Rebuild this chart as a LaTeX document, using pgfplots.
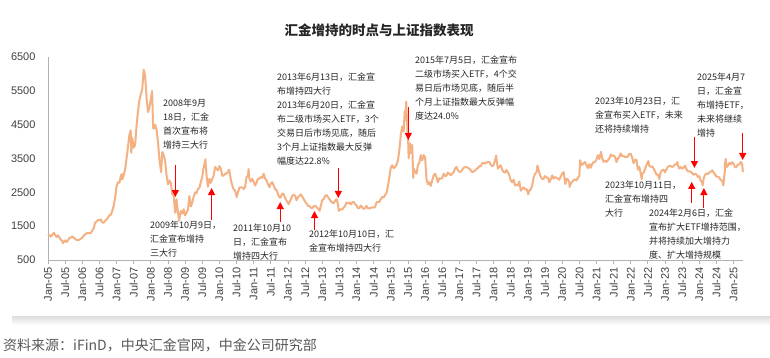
\documentclass[border=0pt]{standalone}
\usepackage{pgfplots}
\pgfplotsset{compat=1.18}
\usepackage{pgfplotstable}
\usepackage{fontspec}
\setmainfont{Liberation Sans}
\newfontfamily\cjk{Noto Sans CJK SC}
\usetikzlibrary{arrows.meta}
\definecolor{lineC}{HTML}{F4B183}
\definecolor{txt}{HTML}{262626}
\definecolor{tick}{HTML}{404040}

% t = months since 1 Jan 2005, v = SSE Composite index
\pgfplotstableread{
t v
0 1260
0.5 1230
1 1191
1.5 1240
2 1306
2.5 1240
3 1181
3.5 1230
4 1159
4.5 1100
5 1060
5.2 1000
5.6 1040
6 1080
6.5 1030
7 1083
7.5 1150
8 1162
8.5 1200
9 1155
9.5 1130
10 1092
10.5 1090
11 1099
11.5 1130
12 1161
12.5 1220
13 1258
13.5 1290
14 1299
14.5 1290
15 1298
15.5 1370
16 1440
16.5 1600
17 1641
17.5 1680
18 1672
18.5 1700
19 1612
19.5 1600
20 1658
20.5 1700
21 1752
21.5 1820
22 1837
22.5 1950
23 2099
23.5 2350
24 2675
24.5 2800
25 2786
25.5 2990
25.9 3040
26 2880
26.5 3000
27 3183
27.5 3500
28 3841
28.5 4200
28.95 4335
29.15 3670
29.5 4100
30 3820
30.5 3900
31 4471
31.5 4900
32 5218
32.5 5400
33 5552
33.5 6124
34 5954
34.5 5300
35 4871
35.5 5000
36 5262
36.45 5497
36.8 4400
37 4383
37.5 4500
38 4348
38.5 4000
39 3473
39.6 3094
40 3693
40.5 3600
41 3433
41.5 3000
42 2736
42.5 2850
43 2776
43.5 2450
44 2397
44.3 2100
44.57 1895
45 2293
45.5 1900
45.9 1664
46 1729
46.5 1950
47 1871
47.5 2000
48 1821
48.5 1900
49 1991
49.5 2390
50 2082
50.5 2200
51 2373
51.5 2500
52 2477
52.5 2600
53 2633
53.5 2800
54 2959
54.5 3250
55 3413
55.1 3478
55.5 3000
56 2667
56.5 2900
57 2779
57.5 2900
58 2996
58.5 3250
59 3195
59.5 3150
60 3277
60.5 3200
61 2989
61.5 3000
62 3051
62.5 3050
63 3110
63.45 3166
64 2871
64.5 2700
65 2592
65.5 2550
66 2398
66.1 2360
66.5 2500
67 2638
67.5 2650
68 2639
68.5 2600
69 2656
69.5 2950
70 2979
70.2 3186
70.5 2900
71 2820
71.5 2900
72 2808
72.5 2700
73 2791
73.5 2900
74 2905
74.5 2950
75 2928
75.5 3050
76 2911
76.5 2850
77 2743
77.5 2650
78 2762
78.5 2800
79 2701
79.5 2600
80 2568
80.5 2450
81 2359
81.35 2340
82 2468
82.5 2450
83 2333
83.5 2250
84 2199
84.2 2150
84.5 2200
85 2292
85.5 2400
86 2428
86.5 2400
87 2263
87.5 2350
88 2397
88.5 2440
89 2373
89.5 2300
90 2225
90.5 2170
91 2103
91.5 2100
92 2047
92.5 2030
93 2086
93.5 2100
94 2069
94.5 2020
95 1980
95.1 1950
95.5 2100
96 2269
96.5 2300
97 2385
97.5 2420
98 2366
98.5 2300
99 2237
99.5 2200
100 2178
100.5 2250
101 2301
101.5 2150
101.8 1950
102 1979
102.5 2000
103 1994
103.5 2050
104 2098
104.5 2200
105 2175
105.5 2200
106 2141
106.5 2200
107 2220
107.5 2150
108 2116
108.5 2030
109 2033
109.5 2110
110 2056
110.5 2010
111 2033
111.5 2100
112 2026
112.5 2030
113 2039
113.5 2060
114 2048
114.5 2070
115 2202
115.5 2220
116 2217
116.5 2300
117 2364
117.5 2350
118 2420
118.5 2480
119 2683
119.5 2950
120 3235
120.5 3300
121 3210
121.5 3250
122 3310
122.5 3450
123 3748
123.5 4200
124 4442
124.5 4300
124.9 4900
125 4612
125.4 5178
125.9 4200
126 4277
126.25 3507
126.7 3950
127 3664
127.5 3900
127.85 2927
128 3206
128.5 3100
129 3053
129.5 3300
130 3383
130.5 3600
131 3445
131.5 3600
132 3539
132.5 2900
133 2738
133.5 2800
134 2688
134.5 2850
135 3004
135.5 3050
136 2938
136.5 2800
137 2917
137.5 2900
138 2930
138.5 3050
139 2979
139.5 3000
140 3085
140.5 3050
141 3005
141.5 3050
142 3100
142.5 3200
143 3250
143.5 3150
144 3104
144.5 3110
145 3159
145.5 3230
146 3242
146.5 3250
147 3223
147.5 3200
148 3155
148.5 3090
149 3117
149.5 3140
150 3192
150.5 3220
151 3273
151.5 3270
152 3361
152.5 3370
153 3349
153.5 3380
154 3393
154.5 3400
155 3317
155.5 3270
156 3307
156.5 3450
156.9 3587
157 3481
157.5 3200
158 3259
158.5 3300
159 3169
159.5 3100
160 3082
160.5 3160
161 3095
161.5 3000
162 2847
162.5 2800
163 2876
163.5 2700
164 2725
164.5 2700
165 2821
165.5 2550
166 2603
166.5 2650
167 2588
167.5 2600
168 2494
168.1 2440
168.5 2550
169 2585
169.5 2700
170 2941
170.5 3050
171 3091
171.3 3288
171.5 3250
172 3078
172.5 2950
173 2899
173.5 2900
174 2979
174.5 2940
175 2933
175.5 2800
176 2886
176.5 3000
177 2905
177.5 2950
178 2929
178.5 2900
179 2872
179.5 2970
180 3050
180.5 3100
181.1 2746
181.5 2900
182 2880
182.5 2800
182.6 2660
183 2750
183.5 2820
184 2860
184.5 2880
185 2852
185.5 2930
186 2985
186.3 3450
186.5 3380
187 3310
187.5 3360
188 3396
188.5 3300
189 3218
189.5 3330
190 3225
190.5 3340
191 3392
191.5 3400
192 3473
192.5 3600
193 3483
193.6 3696
194 3509
194.5 3400
195 3442
195.5 3400
196 3447
196.5 3500
197 3615
197.5 3580
198 3591
198.5 3550
199 3397
199.5 3500
200 3544
200.5 3650
201 3568
201.5 3570
202 3547
202.5 3540
203 3564
203.5 3640
204 3640
204.5 3520
205 3361
205.5 3460
206 3462
206.5 3170
207 3253
207.5 3050
207.85 2886
208 3047
208.5 3080
209 3186
209.5 3300
210 3399
210.2 3424
210.5 3280
211 3253
211.5 3270
212 3202
212.5 3120
213 3024
213.5 3030
214 2893
214.5 3100
215 3151
215.5 3170
216 3089
216.5 3180
217 3255
217.5 3280
218 3280
218.5 3250
219 3273
219.5 3330
220 3323
220.3 3395
220.5 3300
221 3205
221.5 3250
222 3202
222.5 3230
223 3291
223.5 3180
224 3120
224.5 3120
225 3110
225.5 3060
226 3019
226.5 3050
227 3030
227.5 2950
228 2975
228.5 2840
229 2789
229.15 2702
229.5 2900
230 3015
230.5 3060
231 3041
231.5 3080
232 3105
232.5 3150
233 3087
233.5 3030
234 2967
234.5 2960
235 2939
235.5 2860
236 2842
236.4 2704
236.9 3087
237 3336
237.25 3489
237.5 3250
238 3279
238.5 3370
239 3326
239.5 3390
240 3352
240.5 3240
241 3250
241.5 3320
242 3321
242.5 3400
243 3336
243.25 3096
}\sse

\newcommand{\ann}[3]{\node[anchor=north west, inner sep=0pt, align=left, text=txt,
  font=\cjk\fontsize{9bp}{14bp}\selectfont] at (#1bp, {358bp-(#2bp-4.5bp)}) {#3};}

\begin{document}
\begin{tikzpicture}
\path[use as bounding box] (0,0) rectangle (770bp,358bp);
\fill[white] (0,0) rectangle (770bp,358bp);
\shade[top color=black!12, bottom color=white] (12bp,33bp) rectangle (770bp,41bp);

\begin{axis}[
  at={(48bp,98bp)}, anchor=south west,
  width=695bp, height=203bp, scale only axis,
  xmin=0, xmax=243.3, ymin=500, ymax=6500,
  ytick={500,1500,...,6500},
  xtick={0,6,...,240},
  xticklabels={Jan-05,Jul-05,Jan-06,Jul-06,Jan-07,Jul-07,Jan-08,Jul-08,Jan-09,Jul-09,Jan-10,Jul-10,Jan-11,Jul-11,Jan-12,Jul-12,Jan-13,Jul-13,Jan-14,Jul-14,Jan-15,Jul-15,Jan-16,Jul-16,Jan-17,Jul-17,Jan-18,Jul-18,Jan-19,Jul-19,Jan-20,Jul-20,Jan-21,Jul-21,Jan-22,Jul-22,Jan-23,Jul-23,Jan-24,Jul-24,Jan-25},
  axis x line*=bottom, axis y line*=left,
  axis line style={draw=black!30, line width=0.8bp},
  tick align=outside,
  major tick length=4bp,
  xtick style={draw=black!30, line width=0.8bp},
  ytick style={draw=none},
  x tick label style={rotate=90, anchor=east, font=\fontsize{11bp}{11bp}\selectfont, text=tick},
  y tick label style={font=\fontsize{11bp}{11bp}\selectfont, text=tick, xshift=-5bp},
  /pgf/number format/1000 sep={},
  /pgf/number format/assume math mode=true,
  clip=false,
]
\addplot[lineC, line width=2bp, line join=round] table[x=t, y=v] {\sse};

\begin{scope}[red, line width=1.2bp, -{Triangle[width=7bp,length=7bp]}]
\draw (axis cs:44.57,3308) -- (axis cs:44.57,2362);
\draw (axis cs:57.27,1682) -- (axis cs:57.27,2628);
\draw (axis cs:81.3,1623) -- (axis cs:81.3,2214);
\draw (axis cs:101.63,3219) -- (axis cs:101.63,2333);
\draw (axis cs:93.3,1387) -- (axis cs:93.3,1948);
\draw (axis cs:126.13,5023) -- (axis cs:126.13,4047);
\draw (axis cs:226.3,4136) -- (axis cs:226.3,3219);
\draw (axis cs:243.2,4254) -- (axis cs:243.2,3456);
\draw (axis cs:225.35,2185) -- (axis cs:225.35,2806);
\draw (axis cs:229.6,2037) -- (axis cs:229.6,2628);
\end{scope}
\end{axis}

\node[font=\cjk\bfseries\fontsize{13.5bp}{13.5bp}\selectfont, text=txt] at (379bp,328bp) {汇金增持的时点与上证指数表现};
\node[anchor=west, inner sep=0pt, font=\cjk\fontsize{14bp}{14bp}\selectfont, text=black!65] at (3bp,13bp) {资料来源：iFinD，中央汇金官网，中金公司研究部};

\ann{163}{103}{2008年9月\\18日，汇金\\首次宣布将\\增持三大行}
\ann{150}{225}{2009年10月9日，\\汇金宣布增持\\三大行}
\ann{233}{228}{2011年10月10\\日，汇金宣布\\增持四大行}
\ann{277}{77}{2013年6月13日，汇金宣\\布增持四大行\\2013年6月20日，汇金宣\\布二级市场买入ETF，3个\\交易日后市场见底，随后\\3个月上证指数最大反弹\\幅度达22.8\%}
\ann{309}{234}{2012年10月10日，汇\\金宣布增持四大行}
\ann{415}{60}{2015年7月5日，汇金宣布\\二级市场买入ETF，4个交\\易日后市场见底，随后半\\个月上证指数最大反弹幅\\度达24.0\%}
\ann{595}{101}{2023年10月23日，汇\\金宣布买入ETF，未来\\还将持续增持}
\ann{697}{77}{2025年4月7\\日，汇金宣\\布增持ETF，\\未来将继续\\增持}
\ann{605}{185}{2023年10月11日，\\汇金宣布增持四\\大行}
\ann{649}{213}{2024年2月6日，汇金\\宣布扩大ETF增持范围，\\并将持续加大增持力\\度、扩大增持规模}
\end{tikzpicture}
\end{document}
